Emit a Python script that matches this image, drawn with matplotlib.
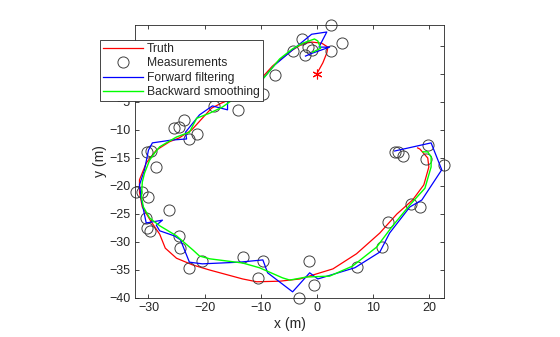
import matplotlib.pyplot as plt
import numpy as np

plt.rcParams["font.family"] = ["Liberation Sans", "DejaVu Sans"]

# measurements (x, y) in metres
meas_x = [2.5, -2.7, 4.6, -4.3, -1.6, -0.9, -2.0, 2.5, -7.5, -9.6,
          -18.4, -14.1, -23.6, -25.5, -24.6, -21.3, -22.7, -30.2, -29.5, -28.6,
          -32.3, -31.1, -30.0, -26.3, -30.4, -30.2, -29.8, -24.5, -24.3, -20.4,
          -22.7, -13.2, -9.5, -10.5, -3.2, -1.4, -0.5, 7.1, 11.6, 12.7,
          16.8, 18.4, 13.9, 14.5, 15.4, 19.8, 19.5, 22.7]
meas_y = [8.8, 6.25, 5.5, 4.1, 4.8, 4.3, 3.4, 4.1, -0.2, -3.6,
          -5.7, -6.4, -8.2, -9.6, -9.5, -10.7, -11.6, -13.9, -13.8, -16.6,
          -21.1, -21.1, -22.0, -24.3, -25.7, -27.5, -28.0, -28.9, -31.1, -33.4,
          -34.6, -32.7, -33.4, -36.4, -40.0, -33.4, -37.7, -34.5, -30.9, -26.4,
          -23.2, -23.8, -13.9, -13.9, -14.6, -12.7, -15.2, -16.2]

truth_x = [0, 1.1, 1.8, 2.0, 0.9, -0.9, -2.5, -4.3, -6.1, -7.9,
           -9.8, -12.0, -14.3, -17.0, -18.75, -20.4, -22.3, -24.5, -26.25, -28.6,
           -30.4, -31.6, -31.6, -31.1, -29.5, -28.0, -27.0, -25.0, -22.1, -19.1,
           -13.2, -10.7, -6.6, -3.0, -0.7, 2.9, 7.1, 11.25, 14.3, 17.1,
           19.1, 20.0, 19.8, 18.4, 18.0]
truth_y = [0, 2.0, 3.75, 4.8, 5.5, 5.7, 5.4, 4.3, 2.9, 1.4,
           -0.7, -2.9, -4.1, -5.2, -6.1, -7.9, -10.0, -11.4, -12.1, -13.6,
           -15.9, -18.9, -21.1, -23.75, -26.4, -28.6, -31.1, -32.9, -34.1, -35.0,
           -36.6, -37.1, -37.0, -36.6, -35.9, -34.8, -32.1, -28.4, -25.0, -22.5,
           -19.8, -16.6, -15.0, -13.4, -13.2]

fwd_x = [-2.0, -0.7, 2.3, 0.4, 1.8, -0.9, -4.3, -7.5, -9.8, -13.2,
         -15.9, -15.9, -18.6, -20.9, -23.4, -23.2, -25.9, -29.3, -30.0, -30.7,
         -31.6, -31.25, -30.4, -27.5, -28.6, -28.0, -25.4, -24.3, -22.7, -20.4,
         -13.75, -9.6, -8.75, -4.3, -1.25, 0.2, 6.8, 11.25, 13.0, 16.6,
         18.75, 22.3, 20.4, 13.9]
fwd_y = [3.2, 3.75, 4.8, 4.8, 7.5, 7.1, 4.3, 1.6, -1.1, -3.4,
         -5.0, -6.4, -5.7, -7.3, -10.4, -11.6, -11.8, -12.3, -13.6, -17.1,
         -19.8, -22.5, -26.6, -26.1, -27.0, -28.0, -28.9, -29.6, -33.6, -33.9,
         -33.6, -33.2, -35.5, -38.9, -35.5, -36.6, -34.6, -31.8, -28.4, -23.75,
         -22.5, -17.1, -12.3, -13.75]

smooth_x = [-0.7, 0.7, 0.2, -0.4, -2.5, -4.3, -6.6, -9.6, -12.5, -15.0,
            -16.8, -19.1, -21.4, -22.7, -25.0, -28.0, -28.9, -29.8, -30.7, -31.1,
            -31.25, -30.9, -29.8, -28.0, -25.0, -22.1, -20.9, -19.1, -13.2, -10.2,
            -6.1, -4.8, -1.8, 2.3, 6.4, 10.7, 13.4, 16.6, 19.3, 20.4,
            20.4, 19.8, 18.9]
smooth_y = [3.9, 4.6, 5.9, 6.25, 5.5, 4.5, 2.7, -0.9, -3.4, -4.6,
            -5.9, -7.0, -7.9, -10.4, -11.25, -13.0, -14.1, -15.4, -17.7, -19.3,
            -22.0, -23.75, -25.7, -27.1, -28.9, -31.4, -32.5, -33.0, -33.75, -34.6,
            -36.4, -36.8, -36.25, -36.1, -34.3, -30.9, -27.3, -23.4, -20.4, -16.6,
            -14.8, -13.9, -13.9]

fig = plt.figure(figsize=(5.6, 3.37), dpi=100)
ax = fig.add_axes([135 / 560, 1 - 298 / 337, 309 / 560, 273 / 337])

txt = "#262626"
ax.plot(truth_x, truth_y, color="red", lw=0.9, label="Truth")
ax.plot(meas_x, meas_y, "o", mfc="none", mec="#404040", ms=8, mew=0.7,
        label="Measurements", clip_on=False)
ax.plot(fwd_x, fwd_y, color="blue", lw=0.9, label="Forward filtering")
ax.plot(smooth_x, smooth_y, color="#00ff00", lw=1.0, label="Backward smoothing")
ax.plot(truth_x[0], truth_y[0], marker=(6, 2, 0), color="red", ms=7, mew=0.8)

ax.set_xlim(-32.4, 22.7)
ax.set_ylim(-40, 8.75)
ax.set_xticks([-30, -20, -10, 0, 10, 20])
ax.set_yticks(np.arange(-40, 6, 5))
ax.tick_params(direction="in", top=True, right=True, length=3, width=0.6,
               labelsize=9, colors=txt, pad=3)
for s in ax.spines.values():
    s.set_linewidth(0.6)
    s.set_color(txt)
ax.set_xlabel("x (m)", fontsize=10, color=txt, labelpad=2)
ax.set_ylabel("y (m)", fontsize=10, color=txt, labelpad=2)

leg = ax.legend(loc="upper left", bbox_to_anchor=(100 / 560, 1 - 40 / 337),
                bbox_transform=fig.transFigure, borderaxespad=0, fontsize=8.7,
                fancybox=False, framealpha=1, edgecolor=txt, handlelength=3.3,
                handletextpad=0.35, labelspacing=0.2, borderpad=0.25)
leg.get_frame().set_linewidth(0.6)
for t in leg.get_texts():
    t.set_color(txt)

fig.savefig("out.png", dpi=100)
